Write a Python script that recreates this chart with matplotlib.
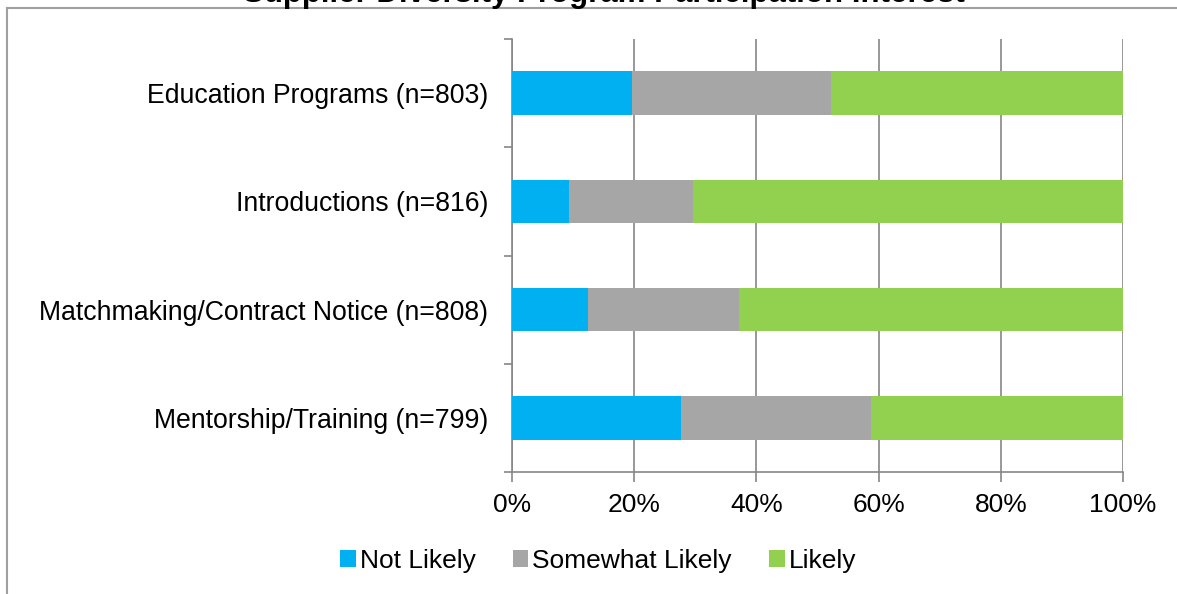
import matplotlib.pyplot as plt
from matplotlib.lines import Line2D
from matplotlib.ticker import FixedLocator, PercentFormatter

plt.rcParams["font.family"] = ["Liberation Sans", "DejaVu Sans"]

categories = [
    "Education Programs (n=803)",
    "Introductions (n=816)",
    "Matchmaking/Contract Notice (n=808)",
    "Mentorship/Training (n=799)",
]
not_likely = [19.6, 9.3, 12.4, 27.6]
somewhat_likely = [32.6, 20.3, 24.8, 31.2]
likely = [47.8, 70.4, 62.8, 41.2]

series = [
    ("Not Likely", not_likely, "#00b0f0"),
    ("Somewhat Likely", somewhat_likely, "#a6a6a6"),
    ("Likely", likely, "#92d050"),
]

W, H = 1177, 594
fig = plt.figure(figsize=(W / 100, H / 100), dpi=100)
ax = fig.add_axes([512 / W, 1 - 472 / H, (1123 - 512) / W, (472 - 39) / H])

ypos = list(range(len(categories)))
left = [0.0] * len(categories)
for name, vals, col in series:
    ax.barh(ypos, vals, left=left, height=0.4, color=col, label=name, zorder=3)
    left = [a + b for a, b in zip(left, vals)]

ax.set_xlim(0, 100)
ax.set_ylim(len(categories) - 0.5, -0.5)
ax.xaxis.set_major_locator(FixedLocator([0, 20, 40, 60, 80, 100]))
ax.xaxis.set_major_formatter(PercentFormatter(decimals=0))
ax.set_yticks(ypos)
ax.set_yticklabels(categories)
ax.yaxis.set_minor_locator(FixedLocator([i - 0.5 for i in range(len(categories) + 1)]))
ax.tick_params(axis="y", which="major", length=0, pad=17, labelsize=19.2)
ax.tick_params(axis="y", which="minor", length=6, width=1.2, color="#868686")
ax.tick_params(axis="x", length=7, width=1.2, color="#868686", labelsize=19, pad=8)
ax.grid(axis="x", color="#868686", linewidth=1.2, zorder=0)

for s in ["top", "right"]:
    ax.spines[s].set_visible(False)
for s in ["left", "bottom"]:
    ax.spines[s].set_color("#868686")
    ax.spines[s].set_linewidth(1.2)

ax.legend(loc="center", bbox_to_anchor=(598 / W, 1 - 561 / H), bbox_transform=fig.transFigure,
          ncol=3, frameon=False, fontsize=19, handlelength=0.6, handleheight=0.6,
          handletextpad=0.15, columnspacing=1.4)

# chart area border (partly outside the image)
fig.add_artist(Line2D([7 / W, 1.0], [1 - 8 / H, 1 - 8 / H], transform=fig.transFigure,
                      color="#a0a0a0", linewidth=1.5))
fig.add_artist(Line2D([7 / W, 7 / W], [0.0, 1 - 8 / H], transform=fig.transFigure,
                      color="#a0a0a0", linewidth=1.5))

fig.text(604 / W, 1 - 2 / H, "Supplier Diversity Program Participation Interest",
         ha="center", va="baseline", fontsize=22.5, fontweight="bold")

fig.savefig("out.png", dpi=100)
